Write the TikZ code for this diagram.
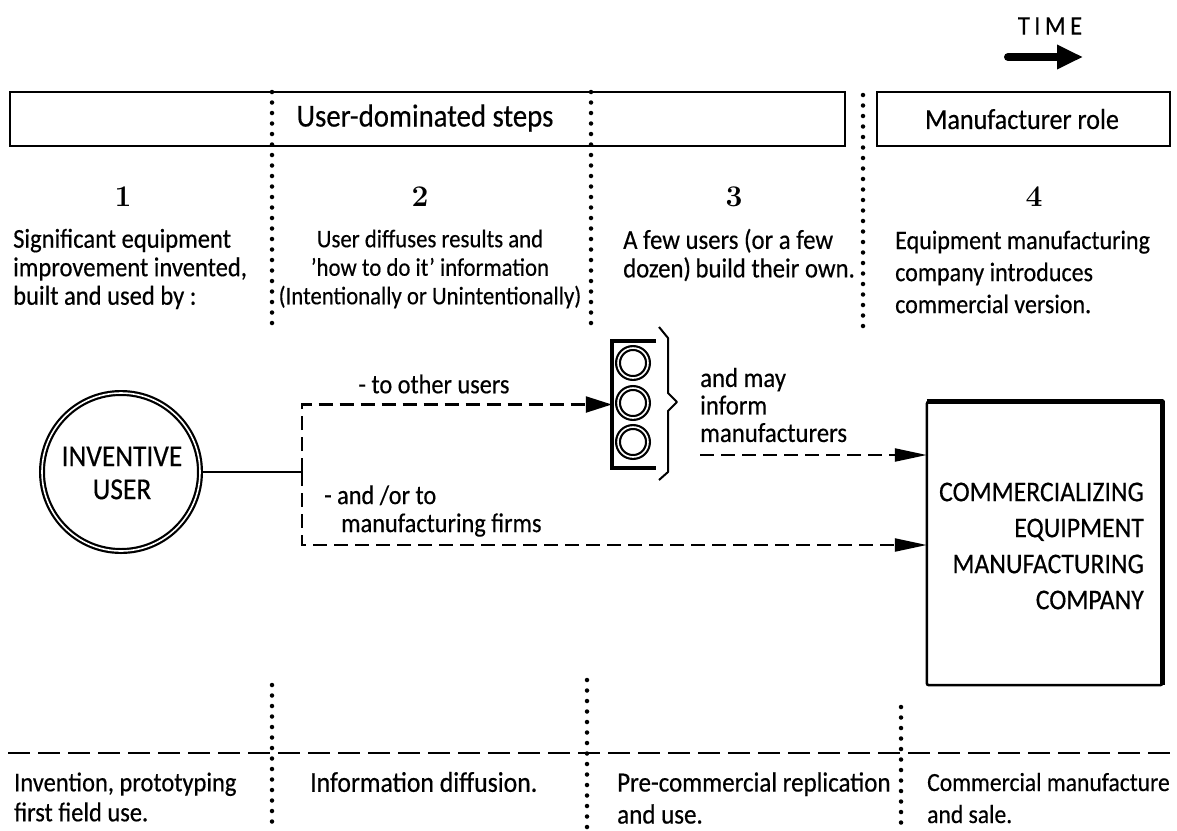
\documentclass[tikz,border=0pt]{standalone}
\usepackage{fontspec}
\usetikzlibrary{arrows.meta}
\setmainfont[FakeStretch=0.9,FakeBold=0.4]{Carlito}
\newfontfamily\numfont{Latin Modern Roman}
\newcommand\fz[2]{\fontsize{#1}{#2}\selectfont}
\tikzset{
 lab/.style={inner sep=0pt,align=left,anchor=west},
 labc/.style={inner sep=0pt,align=center},
 num/.style={font=\numfont\bfseries\fz{30}{32},inner sep=0pt},
 dots/.style={line width=4.5pt,line cap=round,dash pattern=on 0pt off 10.5pt},
 dashline/.style={line width=2.2pt,dash pattern=on 14pt off 7pt},
 head/.style={-{Triangle[length=32pt,width=13pt]}},
 headb/.style={-{Triangle[length=26pt,width=16pt]}},
 frame/.style={draw,line width=2pt,inner sep=0pt},
 ring/.style={circle,draw,line width=2.2pt,double,double distance=1.6pt,inner sep=0pt,minimum size=#1}
}
\begin{document}
\begin{tikzpicture}[x=1pt,y=-1pt]
\useasboundingbox (0,0) rectangle (1177,830);
\node[frame,minimum width=835pt,minimum height=54pt] (top) at (427.5,119) {};
\node[frame,minimum width=293pt,minimum height=54pt] (mbox) at (1023.5,119) {};
\node[labc,font=\fz{32}{34}] (uds) at (425,118) {User-dominated steps};
\node[labc,font=\fz{29}{32}] (mr) at (1022,119) {Manufacturer role};
\node[labc,font=\fz{27}{30}] (time) at (1050,26) {T\,I\,M\,E};
\coordinate (ta) at (1008,57); \coordinate (tb) at (1083,57);
\draw[line width=8pt,line cap=round,-{Triangle[length=26pt,width=23pt]}] (ta) -- (tb);
\foreach \n/\x/\a/\b in {d1/272/92/323,d2/591/92/323,d3/863/95/331,d4/272/685/830,d5/587/680/830,d6/901/707/830}{
 \coordinate (\n a) at (\x,\a); \coordinate (\n b) at (\x,\b);
 \draw[dots] (\n a) -- (\n b);}
\node[num] (n1) at (123,197) {1};
\node[num] (n2) at (420,197) {2};
\node[num] (n3) at (734,197) {3};
\node[num] (n4) at (1034,197) {4};
\node[lab,font=\fz{27.3}{28.5}] (t1) at (13,269) {Significant equipment\\improvement invented,\\built and used by :};
\node[labc,font=\fz{25.3}{28.5}] (t2) at (430,269) {User diffuses results and\\\char39 how to do it\char39{} information\\(Intentionally or Unintentionally)};
\node[lab,font=\fz{27.5}{28.5}] (t3) at (623,255) {A few users (or a few\\dozen)\,build their own.};
\node[lab,font=\fz{26.7}{32}] (t4) at (895,272) {Equipment manufacturing\\company introduces\\commercial version.};
\node[ring=158pt] (user) at (121,472) {};
\node[labc,font=\fz{30.5}{33}] (ut) at (122,473) {INVENTIVE\\USER};
\coordinate (j) at (302,472); \coordinate (c1) at (302,403); \coordinate (c2) at (302,545);
\draw[line width=2.2pt] (user.east) -- (j);
\node[inner sep=0pt,minimum width=44pt,minimum height=127pt] (dev) at (634,404.5) {};
\node[inner sep=0pt,minimum width=235pt,minimum height=283pt] (cbox) at (1044.5,543.5) {};
\coordinate (infstart) at (700,455);
\draw[dashline,headb] (j) |- (dev.west);
\draw[dashline,head] (j) |- (cbox.west |- c2);
\draw[dashline,head] (infstart) -- (cbox.west |- infstart);
\coordinate (b1) at (656,341); \coordinate (b2) at (612,341); \coordinate (b3) at (612,468); \coordinate (b4) at (656,468);
\draw[line width=3.5pt] (b1) -- (b2) -- (b3) -- (b4);
\node[ring=30pt] (l1) at (633,363) {};
\node[ring=30pt] (l2) at (633,403) {};
\node[ring=30pt] (l3) at (633,442) {};
\coordinate (br1) at (659,327); \coordinate (br2) at (668,338); \coordinate (br3) at (668,393); \coordinate (br4) at (677,402);
\coordinate (br5) at (668,411); \coordinate (br6) at (668,472); \coordinate (br7) at (659,480);
\draw[line width=2pt,line join=round] (br1) -- (br2) -- (br3) -- (br4) -- (br5) -- (br6) -- (br7);
\node[lab,font=\fz{27.5}{27.5}] (may) at (700,405) {and may\\inform\\manufacturers};
\node[labc,font=\fz{27}{28}] (other) at (434,384) {- to other users};
\node[lab,font=\fz{27}{28}] (firms) at (324,511) {- and /or to\\\hspace{17pt}manufacturing firms};
\draw[line width=2.5pt,rounded corners=2pt] (cbox.south west) rectangle (cbox.north east);
\draw[line width=5pt,line join=round] (cbox.north west) -- (cbox.north east) -- (cbox.south east);
\node[lab,anchor=east,align=right,font=\fz{28.6}{36}] (ct) at (1144,546) {COMMERCIALIZING\\EQUIPMENT\\MANUFACTURING\\COMPANY};
\coordinate (h1) at (8,753); \coordinate (h2) at (1177,753);
\draw[line width=2.2pt,dash pattern=on 22pt off 8pt] (h1) -- (h2);
\node[lab,font=\fz{27.2}{30}] (b1t) at (14,797) {Invention, prototyping\\first field use.};
\node[lab,font=\fz{28.6}{30}] (b2t) at (310,782) {Information diffusion.};
\node[lab,font=\fz{27.8}{32}] (b3t) at (617,798) {Pre-commercial replication\\and use.};
\node[lab,font=\fz{26.2}{32}] (b4t) at (927,798) {Commercial manufacture\\and sale.};
\end{tikzpicture}
\end{document}
